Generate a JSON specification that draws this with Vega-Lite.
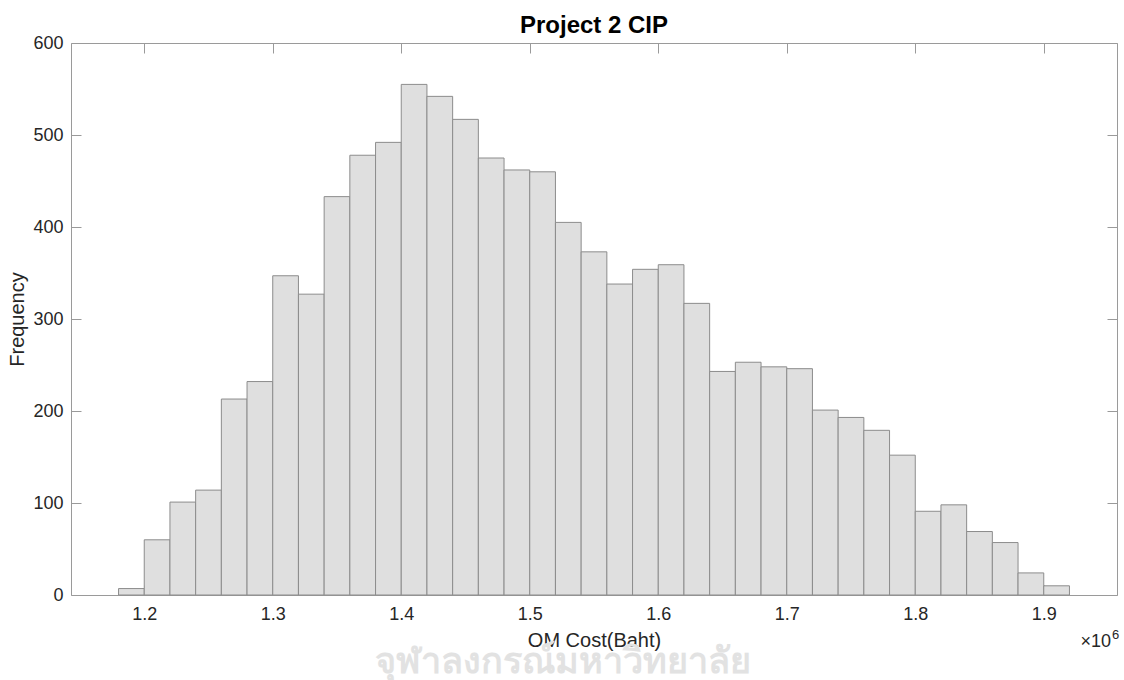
{
  "$schema": "https://vega.github.io/schema/vega-lite/v6.json",
  "width": 1046,
  "height": 552,
  "autosize": {"type": "none"},
  "padding": {"left": 71, "top": 43, "right": 7, "bottom": 85},
  "background": "white",
  "config": {
    "font": "Liberation Sans",
    "view": {"stroke": null},
    "axis": {
      "domainColor": "#9a9a9a",
      "domainWidth": 1,
      "tickColor": "#9a9a9a",
      "tickWidth": 1,
      "tickSize": -10,
      "grid": false,
      "labelFont": "Liberation Sans",
      "labelFontSize": 18,
      "labelColor": "#262626",
      "titleFont": "Liberation Sans",
      "titleFontSize": 20,
      "titleFontWeight": "normal",
      "titleColor": "#262626"
    }
  },
  "title": {
    "text": "Project 2 CIP",
    "font": "Liberation Sans",
    "fontSize": 24,
    "fontWeight": "bold",
    "color": "#000000",
    "offset": 2,
    "dy": 6
  },
  "data": {
    "values": [
      {"bin_start": 1180000, "bin_end": 1200000, "count": 7},
      {"bin_start": 1200000, "bin_end": 1220000, "count": 60},
      {"bin_start": 1220000, "bin_end": 1240000, "count": 101},
      {"bin_start": 1240000, "bin_end": 1260000, "count": 114},
      {"bin_start": 1260000, "bin_end": 1280000, "count": 213},
      {"bin_start": 1280000, "bin_end": 1300000, "count": 232},
      {"bin_start": 1300000, "bin_end": 1320000, "count": 347},
      {"bin_start": 1320000, "bin_end": 1340000, "count": 327},
      {"bin_start": 1340000, "bin_end": 1360000, "count": 433},
      {"bin_start": 1360000, "bin_end": 1380000, "count": 478},
      {"bin_start": 1380000, "bin_end": 1400000, "count": 492},
      {"bin_start": 1400000, "bin_end": 1420000, "count": 555},
      {"bin_start": 1420000, "bin_end": 1440000, "count": 542},
      {"bin_start": 1440000, "bin_end": 1460000, "count": 517},
      {"bin_start": 1460000, "bin_end": 1480000, "count": 475},
      {"bin_start": 1480000, "bin_end": 1500000, "count": 462},
      {"bin_start": 1500000, "bin_end": 1520000, "count": 460},
      {"bin_start": 1520000, "bin_end": 1540000, "count": 405},
      {"bin_start": 1540000, "bin_end": 1560000, "count": 373},
      {"bin_start": 1560000, "bin_end": 1580000, "count": 338},
      {"bin_start": 1580000, "bin_end": 1600000, "count": 354},
      {"bin_start": 1600000, "bin_end": 1620000, "count": 359},
      {"bin_start": 1620000, "bin_end": 1640000, "count": 317},
      {"bin_start": 1640000, "bin_end": 1660000, "count": 243},
      {"bin_start": 1660000, "bin_end": 1680000, "count": 253},
      {"bin_start": 1680000, "bin_end": 1700000, "count": 248},
      {"bin_start": 1700000, "bin_end": 1720000, "count": 246},
      {"bin_start": 1720000, "bin_end": 1740000, "count": 201},
      {"bin_start": 1740000, "bin_end": 1760000, "count": 193},
      {"bin_start": 1760000, "bin_end": 1780000, "count": 179},
      {"bin_start": 1780000, "bin_end": 1800000, "count": 152},
      {"bin_start": 1800000, "bin_end": 1820000, "count": 91},
      {"bin_start": 1820000, "bin_end": 1840000, "count": 98},
      {"bin_start": 1840000, "bin_end": 1860000, "count": 69},
      {"bin_start": 1860000, "bin_end": 1880000, "count": 57},
      {"bin_start": 1880000, "bin_end": 1900000, "count": 24},
      {"bin_start": 1900000, "bin_end": 1920000, "count": 10}
    ]
  },
  "layer": [
    {
      "mark": {"type": "bar", "fill": "#dfdfdf", "stroke": "#8c8c8c", "strokeWidth": 1},
      "encoding": {
        "x": {
          "field": "bin_start",
          "type": "quantitative",
          "scale": {"domain": [1143000, 1957000], "nice": false, "zero": false},
          "axis": {
            "orient": "bottom",
            "values": [1200000, 1300000, 1400000, 1500000, 1600000, 1700000, 1800000, 1900000],
            "labelExpr": "format(datum.value / 1000000, '.1f')",
            "labelPadding": 20,
            "title": "OM Cost(Baht)",
            "titlePadding": 7
          }
        },
        "x2": {"field": "bin_end"},
        "y": {
          "field": "count",
          "type": "quantitative",
          "scale": {"domain": [0, 600], "nice": false},
          "axis": {
            "orient": "left",
            "values": [0, 100, 200, 300, 400, 500, 600],
            "labelPadding": 18,
            "title": "Frequency",
            "titlePadding": 5
          }
        },
        "y2": {"datum": 0}
      }
    },
    {
      "mark": {"type": "bar", "opacity": 0},
      "encoding": {
        "x": {
          "field": "bin_start",
          "type": "quantitative",
          "axis": {
            "orient": "top",
            "values": [1200000, 1300000, 1400000, 1500000, 1600000, 1700000, 1800000, 1900000],
            "labels": false,
            "title": null
          }
        },
        "x2": {"field": "bin_end"},
        "y": {
          "field": "count",
          "type": "quantitative",
          "axis": {
            "orient": "right",
            "values": [0, 100, 200, 300, 400, 500, 600],
            "labels": false,
            "title": null
          }
        },
        "y2": {"datum": 0}
      }
    },
    {
      "data": {"values": [{"label": "×10"}]},
      "mark": {"type": "text", "align": "right", "baseline": "alphabetic", "dx": -6, "dy": 52, "fontSize": 18, "color": "#262626", "font": "Liberation Sans"},
      "encoding": {
        "text": {"field": "label"},
        "x": {"datum": 1957000, "type": "quantitative", "axis": null},
        "y": {"datum": 0, "type": "quantitative", "axis": null}
      }
    },
    {
      "data": {"values": [{"label": "6"}]},
      "mark": {"type": "text", "align": "left", "baseline": "alphabetic", "dx": -5, "dy": 44, "fontSize": 13, "color": "#262626", "font": "Liberation Sans"},
      "encoding": {
        "text": {"field": "label"},
        "x": {"datum": 1957000, "type": "quantitative", "axis": null},
        "y": {"datum": 0, "type": "quantitative", "axis": null}
      }
    },
    {
      "data": {"values": [{"label": "จุฬาลงกรณ์มหาวิทยาลัย"}]},
      "mark": {"type": "text", "align": "center", "baseline": "middle", "dy": 67, "fontSize": 36, "fontWeight": "bold", "color": "#e2e2e2", "font": "Liberation Sans"},
      "encoding": {
        "text": {"field": "label"},
        "x": {"datum": 1526000, "type": "quantitative", "axis": null},
        "y": {"datum": 0, "type": "quantitative", "axis": null}
      }
    }
  ],
  "resolve": {"axis": {"x": "independent", "y": "independent"}}
}
